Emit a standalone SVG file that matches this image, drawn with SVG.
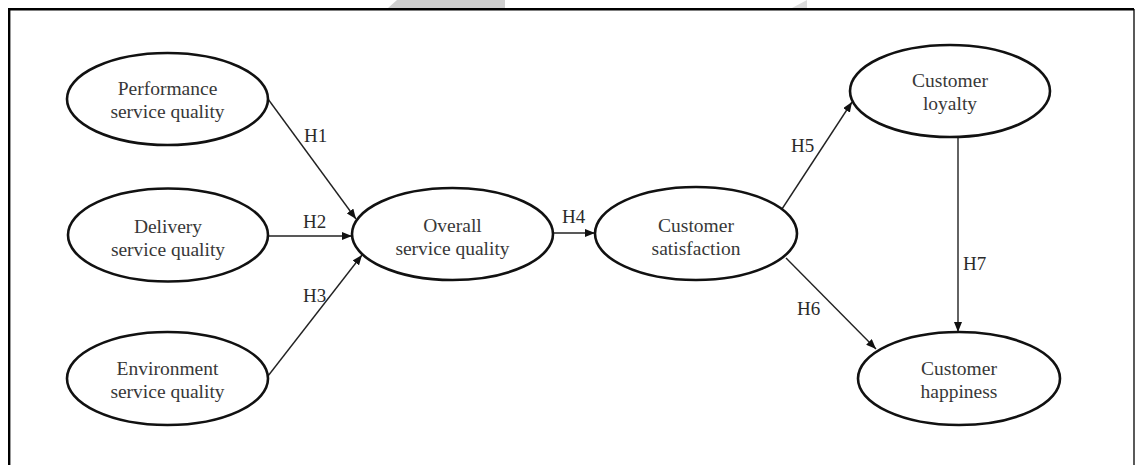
<svg xmlns="http://www.w3.org/2000/svg" width="1136" height="465" viewBox="0 0 1136 465">
  <style>
    .node ellipse { fill: #ffffff; stroke: #111111; stroke-width: 2.6; }
    .node text { font-family: "Liberation Serif", "Times New Roman", serif; font-size: 19.5px; fill: #383838; text-anchor: middle; }
    .edge { stroke: #222222; stroke-width: 1.4; fill: none; marker-end: url(#arrow); }
    .lbl { font-family: "Liberation Serif", "Times New Roman", serif; font-size: 19px; fill: #2a2a2a; }
  </style>
  <defs>
    <marker id="arrow" viewBox="0 0 10 8" refX="10" refY="4" markerWidth="10" markerHeight="8" markerUnits="userSpaceOnUse" orient="auto">
      <path d="M0,0 L10,4 L0,8 Z" fill="#111111"/>
    </marker>
  </defs>

  <rect x="0" y="0" width="1136" height="465" fill="#ffffff"/>

  <!-- grey tabs along the top edge -->
  <polygon points="388,8 397,0 505,0 505,8" fill="#cfcfcf"/>
  <polygon points="792,8 807,0 807,8" fill="#dcdcdc"/>

  <!-- frame (open at the bottom) -->
  <path d="M9.2,465 V9.2 H1134" fill="none" stroke="#000000" stroke-width="2.4"/>
  <line x1="1134" y1="9" x2="1134" y2="465" stroke="#000000" stroke-width="1.3"/>

  <g id="connectors">
    <line class="edge" x1="268" y1="99" x2="356" y2="219"/>
    <line class="edge" x1="268" y1="236" x2="352" y2="236"/>
    <line class="edge" x1="268" y1="376" x2="362" y2="255"/>
    <line class="edge" x1="553" y1="233" x2="595" y2="233"/>
    <line class="edge" x1="782" y1="209" x2="852" y2="102"/>
    <line class="edge" x1="786" y1="258" x2="876" y2="349"/>
    <line class="edge" x1="958" y1="137" x2="958" y2="332"/>
    <text class="lbl" x="304" y="142">H1</text>
    <text class="lbl" x="303" y="228">H2</text>
    <text class="lbl" x="303" y="302">H3</text>
    <text class="lbl" x="562" y="223">H4</text>
    <text class="lbl" x="791" y="152">H5</text>
    <text class="lbl" x="797" y="315">H6</text>
    <text class="lbl" x="963" y="270">H7</text>
  </g>

  <g id="performance" class="node">
    <ellipse cx="167.5" cy="99" rx="100.5" ry="46"/>
    <text x="167.5" y="95">Performance</text>
    <text x="167.5" y="118">service quality</text>
  </g>
  <g id="delivery" class="node">
    <ellipse cx="168" cy="235" rx="100" ry="46.5"/>
    <text x="168" y="233">Delivery</text>
    <text x="168" y="256">service quality</text>
  </g>
  <g id="environment" class="node">
    <ellipse cx="167.5" cy="378.5" rx="100.5" ry="46.5"/>
    <text x="167.5" y="375">Environment</text>
    <text x="167.5" y="398">service quality</text>
  </g>
  <g id="overall" class="node">
    <ellipse cx="452.5" cy="234" rx="100.5" ry="46"/>
    <text x="452.5" y="232">Overall</text>
    <text x="452.5" y="255">service quality</text>
  </g>
  <g id="satisfaction" class="node">
    <ellipse cx="696" cy="233.5" rx="101" ry="46.5"/>
    <text x="696" y="232">Customer</text>
    <text x="696" y="255">satisfaction</text>
  </g>
  <g id="loyalty" class="node">
    <ellipse cx="950" cy="91" rx="100" ry="46"/>
    <text x="950" y="87">Customer</text>
    <text x="950" y="110">loyalty</text>
  </g>
  <g id="happiness" class="node">
    <ellipse cx="959" cy="378.5" rx="101" ry="46.5"/>
    <text x="959" y="375">Customer</text>
    <text x="959" y="398">happiness</text>
  </g>
</svg>
